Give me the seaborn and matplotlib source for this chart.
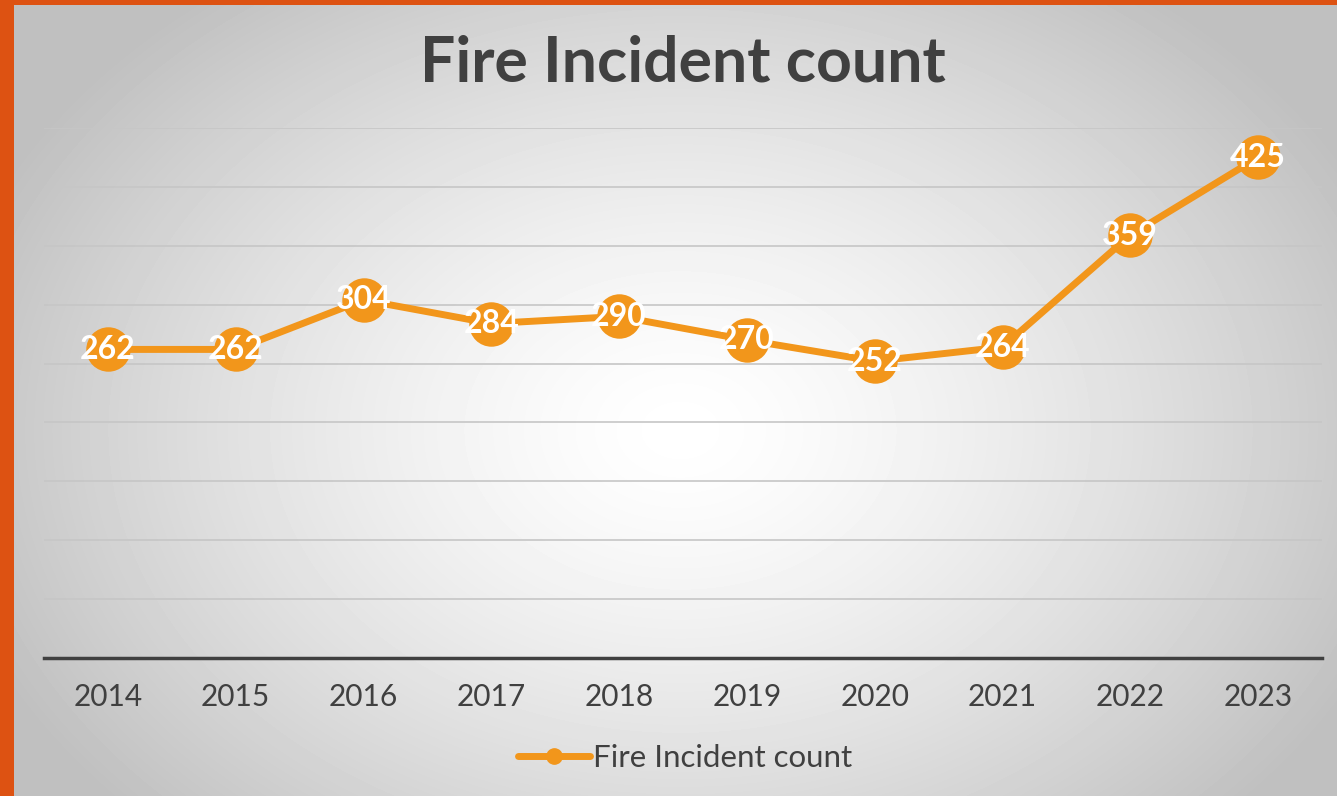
import numpy as np
import matplotlib
matplotlib.use("Agg")
import matplotlib.pyplot as plt
import seaborn as sns
from matplotlib.lines import Line2D
from matplotlib.patches import Rectangle

years = ["2014", "2015", "2016", "2017", "2018", "2019", "2020", "2021", "2022", "2023"]
incidents = [262, 262, 304, 284, 290, 270, 252, 264, 359, 425]
series_name = "Fire Incident count"

ORANGE = "#F2961B"
DARK = "#404040"
W, H = 1337, 796


def draw_background(fig):
    # radial grey-to-white backdrop, orange frame on left/top
    bg = fig.add_axes([0, 0, 1, 1], zorder=-10)
    yy, xx = np.mgrid[0:H, 0:W]
    r = np.sqrt(((xx - 680) / 760.0) ** 2 + ((yy - 430) / 560.0) ** 2)
    shade = 1.0 - 0.25 * np.clip(r, 0, 1) ** 1.4
    bg.imshow(shade, cmap="gray", vmin=0, vmax=1, aspect="auto",
              extent=[0, W, H, 0], interpolation="bilinear")
    bg.add_patch(Rectangle((0, 0), 14, H, color="#DD5212", lw=0))
    bg.add_patch(Rectangle((0, 0), W, 5, color="#DD5212", lw=0))
    bg.set_xlim(0, W)
    bg.set_ylim(H, 0)
    bg.axis("off")


def main():
    sns.set_style("white")
    plt.rcParams["font.family"] = ["Lato", "DejaVu Sans"]

    fig = plt.figure(figsize=(W / 100, H / 100), dpi=100)
    draw_background(fig)

    ax = fig.add_axes([44 / W, 138 / H, (1322 - 44) / W, (658 - 128) / H])
    ax.patch.set_alpha(0)

    x = np.arange(len(years))
    sns.lineplot(x=x, y=incidents, ax=ax, color=ORANGE, linewidth=5,
                 marker="o", markersize=32, markeredgewidth=0, zorder=3)
    for xi, v in zip(x, incidents):
        ax.text(xi, v, str(v), ha="center", va="center", color="white",
                fontsize=23, fontweight="bold", zorder=4)

    ax.set_xlim(-0.5, len(years) - 0.5)
    ax.set_ylim(0, 450)
    ax.set_yticks(np.arange(50, 451, 50))
    ax.yaxis.grid(True, color="#c6c6c6", linewidth=1.2)
    ax.set_yticklabels([])
    ax.tick_params(axis="y", length=0)
    ax.set_xticks(x)
    ax.set_xticklabels(years, fontsize=21.5, color=DARK)
    ax.tick_params(axis="x", length=0, pad=18)
    for side in ["top", "right", "left"]:
        ax.spines[side].set_visible(False)
    ax.spines["bottom"].set_color(DARK)
    ax.spines["bottom"].set_linewidth(2.5)

    fig.text(683 / W, 1 - 63 / H, "Fire Incident count", ha="center", va="center",
             fontsize=45, fontweight="bold", color=DARK)

    handle = Line2D([], [], color=ORANGE, linewidth=5, marker="o", markersize=11)
    fig.legend([handle], [series_name], loc="center", bbox_to_anchor=(685 / W, 1 - 758 / H),
               frameon=False, fontsize=22.5, labelcolor=DARK, handlelength=2.3,
               handletextpad=0.1)

    fig.savefig("out.png", dpi=100)


if __name__ == "__main__":
    main()
